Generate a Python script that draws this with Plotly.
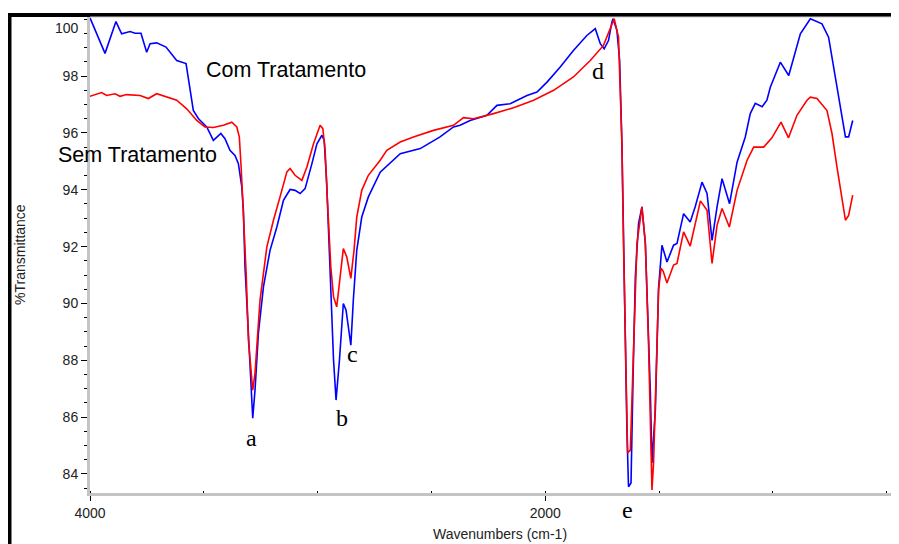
import plotly.graph_objects as go

# Com Tratamento (blue)
com_wn = [4000, 3934, 3886, 3861, 3824, 3802, 3776, 3751, 3736, 3707, 3666, 3619, 3578, 3568, 3546, 3524,
          3487, 3458, 3425, 3407, 3385, 3363, 3348, 3333, 3326, 3319, 3304, 3294, 3285, 3275, 3260, 3238,
          3209, 3179, 3150, 3121, 3099, 3077, 3055, 3025, 3003, 2981, 2971, 2960, 2952, 2942, 2930, 2919,
          2904, 2887, 2875, 2865, 2854, 2843, 2828, 2806, 2777, 2725, 2637, 2549, 2462, 2403, 2374, 2330,
          2256, 2212, 2154, 2080, 2036, 1992, 1934, 1876, 1817, 1780, 1758, 1741, 1722, 1707, 1702, 1685,
          1673, 1663, 1656, 1648, 1641, 1634, 1623, 1614, 1604, 1590, 1575, 1560, 1550, 1538, 1531, 1516,
          1502, 1487, 1465, 1436, 1421, 1392, 1363, 1341, 1311, 1289, 1267, 1245, 1223, 1190, 1157, 1121,
          1099, 1077, 1047, 1026, 1011, 967, 930, 879, 835, 784, 755, 718, 681, 667, 649]
com_t = [100.05, 98.80, 99.92, 99.49, 99.57, 99.51, 99.51, 98.84, 99.14, 99.17, 99.02, 98.55, 98.44, 97.97,
         96.79, 96.51, 96.21, 95.74, 95.98, 95.80, 95.39, 95.21, 94.92, 94.10, 93.28, 91.29, 88.96, 86.95,
         85.96, 86.95, 88.96, 90.58, 91.87, 92.69, 93.63, 94.01, 93.98, 93.87, 94.04, 94.92, 95.62, 95.92,
         95.74, 94.22, 92.47, 90.12, 88.01, 86.60, 88.01, 90.00, 89.76, 89.18, 88.53, 90.12, 91.87, 93.04,
         93.75, 94.62, 95.27, 95.45, 95.86, 96.21, 96.27, 96.44, 96.62, 96.97, 97.03, 97.32, 97.44, 97.79,
         98.32, 98.90, 99.43, 99.67, 99.14, 98.96, 99.25, 99.90, 100.02, 99.61, 98.55, 95.63, 92.12, 88.60,
         85.55, 83.55, 83.68, 87.42, 90.94, 92.81, 93.40, 92.11, 89.76, 86.85, 84.39, 86.25, 90.54, 92.05,
         91.46, 92.05, 92.11, 93.16, 92.87, 93.40, 94.27, 93.87, 92.22, 93.40, 94.39, 93.51, 94.97, 95.86,
         96.68, 97.04, 96.92, 97.15, 97.61, 98.49, 98.02, 99.49, 100.02, 99.84, 99.37, 97.61, 95.86, 95.86,
         96.44]

# Sem Tratamento (red)
sem_wn = [4000, 3949, 3927, 3890, 3868, 3839, 3780, 3744, 3707, 3656, 3619, 3575, 3531, 3495, 3458, 3414,
          3377, 3355, 3344, 3336, 3326, 3314, 3304, 3294, 3285, 3275, 3253, 3223, 3194, 3165, 3135, 3121,
          3099, 3069, 3047, 3018, 2989, 2977, 2967, 2957, 2942, 2930, 2916, 2901, 2887, 2872, 2854, 2840,
          2828, 2806, 2777, 2725, 2696, 2637, 2579, 2491, 2403, 2359, 2315, 2227, 2139, 2051, 1963, 1876,
          1802, 1744, 1714, 1697, 1678, 1663, 1656, 1645, 1638, 1626, 1616, 1597, 1575, 1560, 1546, 1535,
          1531, 1524, 1512, 1502, 1491, 1482, 1465, 1436, 1421, 1392, 1363, 1318, 1289, 1267, 1245, 1223,
          1191, 1157, 1113, 1084, 1040, 1004, 964, 931, 894, 850, 835, 806, 762, 740, 718, 696, 681, 667, 649]
sem_t = [97.29, 97.42, 97.32, 97.38, 97.29, 97.35, 97.32, 97.21, 97.38, 97.26, 97.15, 96.85, 96.44, 96.21,
         96.19, 96.27, 96.38, 96.21, 95.86, 94.80, 93.04, 91.07, 88.71, 87.66, 86.95, 87.55, 90.12, 91.99,
         92.93, 93.75, 94.63, 94.75, 94.51, 94.33, 94.80, 95.62, 96.27, 96.15, 95.39, 93.63, 91.29, 90.23,
         89.88, 90.94, 91.93, 91.64, 90.88, 91.87, 93.04, 93.98, 94.51, 95.04, 95.39, 95.68, 95.86, 96.09,
         96.27, 96.54, 96.50, 96.68, 96.89, 97.15, 97.50, 97.97, 98.55, 99.08, 99.67, 100.02, 99.37, 95.63,
         92.12, 87.42, 84.74, 84.84, 87.42, 92.11, 93.40, 92.11, 88.60, 84.39, 83.44, 84.39, 87.42, 90.47,
         91.24, 91.14, 90.72, 91.35, 91.41, 92.52, 92.02, 93.61, 93.28, 91.41, 92.75, 93.34, 92.69, 93.98,
         95.04, 95.50, 95.50, 95.83, 96.38, 95.83, 96.62, 97.15, 97.26, 97.21, 96.79, 95.98, 94.80, 93.75,
         92.93, 93.10, 93.81]

y_ticks = [84, 86, 88, 90, 92, 94, 96, 98]
x_ticks = [4000, 2000]
x_tick_labels = ["4000", "2000"]

series_labels = ["Com Tratamento", "Sem Tratamento"]
peak_labels = ["a", "b", "c", "d", "e"]

W, H = 899, 544
OFF = 8  # page body margin in the browser
# plot box in screen pixels
L, R, T, B = 90, 898, 17, 493


def px(x, y):
    return (x - L) / (R - L), (B - y) / (B - T)


fig = go.Figure()
fig.add_trace(go.Scatter(x=com_wn, y=com_t, mode="lines", line=dict(color="#0000ff", width=1.6),
                         name=series_labels[0], showlegend=False))
fig.add_trace(go.Scatter(x=sem_wn, y=sem_t, mode="lines", line=dict(color="#ff0000", width=1.6),
                         name=series_labels[1], showlegend=False))

annos = []
tick_font = dict(family="Liberation Sans, Arial", size=14, color="#222222")
ax, ay = px(81, 28)
annos.append(dict(text="100", x=ax, y=ay, xref="paper", yref="paper", xanchor="right", yanchor="middle",
                  showarrow=False, font=tick_font))
ax, ay = px(20, 255)
annos.append(dict(text="%Transmittance", x=ax, y=ay, xref="paper", yref="paper", textangle=-90,
                  xanchor="center", yanchor="middle", showarrow=False,
                  font=dict(family="Liberation Sans, Arial", size=14, color="#222222")))
ax, ay = px(500, 534)
annos.append(dict(text="Wavenumbers (cm-1)", x=ax, y=ay, xref="paper", yref="paper",
                  xanchor="center", yanchor="middle", showarrow=False,
                  font=dict(family="Liberation Sans, Arial", size=14, color="#222222")))
for txt, (x, y) in zip(series_labels, [(204, 70), (56, 155)]):
    ax, ay = px(x, y)
    annos.append(dict(text=txt, x=ax, y=ay, xref="paper", yref="paper", xanchor="left", yanchor="middle",
                      showarrow=False, font=dict(family="Liberation Sans, Arial", size=21.5, color="#000000")))
for txt, (x, y) in zip(peak_labels, [(251, 438), (342, 418), (352, 354), (598, 71), (627, 510)]):
    ax, ay = px(x, y)
    annos.append(dict(text=txt, x=ax, y=ay, xref="paper", yref="paper", xanchor="center", yanchor="middle",
                      showarrow=False, font=dict(family="Liberation Serif, Times New Roman", size=24,
                                                 color="#000000")))

shapes = []
x0, y0 = px(7, 15)
x1, _ = px(905, 15)
shapes.append(dict(type="line", xref="paper", yref="paper", x0=x0, y0=y0, x1=x1, y1=y0,
                   line=dict(color="#000000", width=4)))
_, yb = px(9, 560)
xl, _ = px(9.5, 0)
shapes.append(dict(type="line", xref="paper", yref="paper", x0=xl, y0=y0, x1=xl, y1=yb,
                   line=dict(color="#000000", width=4)))
shapes.append(dict(type="line", xref="paper", yref="paper", x0=0, y0=1, x1=1, y1=1,
                   line=dict(color="#cccccc", width=1)))

fig.update_layout(
    width=W, height=H,
    margin=dict(l=L - OFF, r=W - (R - OFF), t=T - OFF, b=H - (B - OFF), pad=0),
    paper_bgcolor="white", plot_bgcolor="white",
    showlegend=False,
    annotations=annos,
    shapes=shapes,
    xaxis=dict(range=[4000, 450], autorange=False, showgrid=False, zeroline=False,
               showline=True, linecolor="#c4c4c4", linewidth=3,
               tickvals=x_ticks, ticktext=x_tick_labels, ticks="outside", ticklen=5,
               tickcolor="#000000", tickwidth=1, tickfont=tick_font,
               minor=dict(dtick=500, tick0=0, ticks="inside", ticklen=2, tickcolor="#000000", tickwidth=1)),
    yaxis=dict(range=[83.33, 100.08], autorange=False, showgrid=False, zeroline=False,
               showline=True, linecolor="#c4c4c4", linewidth=3,
               tickvals=y_ticks, ticks="outside", ticklen=6, tickcolor="#000000", tickwidth=1,
               tickfont=tick_font,
               minor=dict(dtick=0.5, tick0=0, ticks="outside", ticklen=3, tickcolor="#000000", tickwidth=1)),
)

fig.write_html("out.html")
